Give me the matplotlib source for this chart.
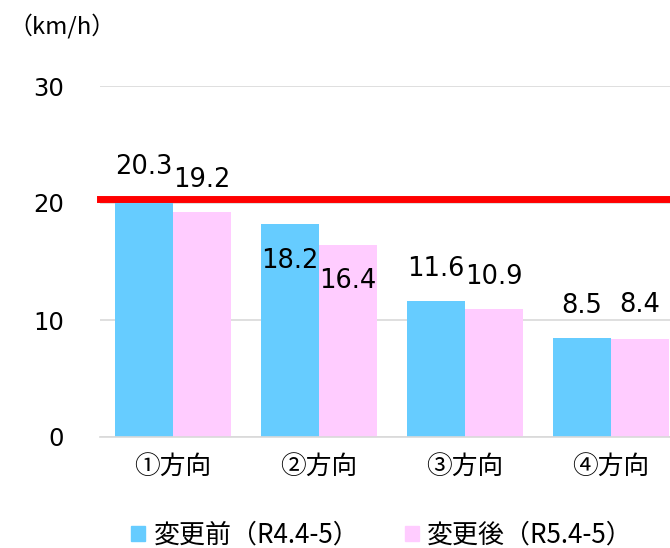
import matplotlib
matplotlib.use('Agg')
import numpy as np
import matplotlib.pyplot as plt
from matplotlib.patches import Patch

categories = ['①方向', '②方向', '③方向', '④方向']
before = [20.3, 18.2, 11.6, 8.5]  # 変更前（R4.4-5）
after = [19.2, 16.4, 10.9, 8.4]   # 変更後（R5.4-5）
series_names = ['変更前（R4.4-5）', '変更後（R5.4-5）']
target = 20.3
yticks = [0, 10, 20, 30]

jp = ['Noto Sans CJK JP', 'DejaVu Sans']
num = 'DejaVu Sans'
c_before, c_after = '#66CCFF', '#FFCCFF'

fig = plt.figure(figsize=(6.7, 5.48), dpi=100)
ax = fig.add_axes([100 / 670, 1 - 437 / 548, 584 / 670, (437 - 86) / 548])

x = np.arange(len(categories))
w = 0.397
b1 = ax.bar(x - w / 2, before, w, color=c_before, zorder=2)
b2 = ax.bar(x + w / 2, after, w, color=c_after, zorder=2)
ax.axhline(target, color='#FF0000', lw=5, zorder=3, clip_on=False)

# label offsets in points (labels for group 2 sit inside the bars)
off1 = [23.5, -26.5, 23.5, 23]
off2 = [23.5, -26, 23.5, 24]
for bars, offs in ((b1, off1), (b2, off2)):
    for rect, o in zip(bars, offs):
        h = rect.get_height()
        ax.annotate(f'{h:.1f}', (rect.get_x() + rect.get_width() / 2, h),
                    xytext=(0, o), textcoords='offset points',
                    ha='center', va='center', fontsize=18.5, fontfamily=num,
                    zorder=4)

ax.set_xlim(-0.5, len(categories) - 0.5)
ax.set_ylim(0, 30)
ax.set_yticks(yticks)
ax.set_yticklabels([str(t) for t in yticks], fontfamily=num, fontsize=17.5)
ax.tick_params(axis='y', length=0, pad=26)
ax.set_xticks(x)
ax.set_xticklabels(categories, family=jp, fontsize=18.5)
ax.tick_params(axis='x', length=0, pad=12)
ax.grid(axis='y', color='#D9D9D9', lw=1.2, zorder=0)
for s in ['top', 'right', 'left']:
    ax.spines[s].set_visible(False)
ax.spines['bottom'].set_color('#D9D9D9')
ax.spines['bottom'].set_linewidth(1.2)

fig.text(8 / 670, 1 - 26 / 548, '（km/h）', family=jp, fontsize=17.2,
         ha='left', va='center')

handles = [Patch(color=c_before), Patch(color=c_after)]
fig.legend(handles, series_names, loc='center',
           bbox_to_anchor=(382 / 670, 1 - 535 / 548),
           ncol=2, frameon=False, prop={'family': jp, 'size': 18.7},
           handlelength=0.54, handleheight=0.54, handletextpad=0.32,
           columnspacing=1.75)

fig.savefig('out.png', dpi=100)
